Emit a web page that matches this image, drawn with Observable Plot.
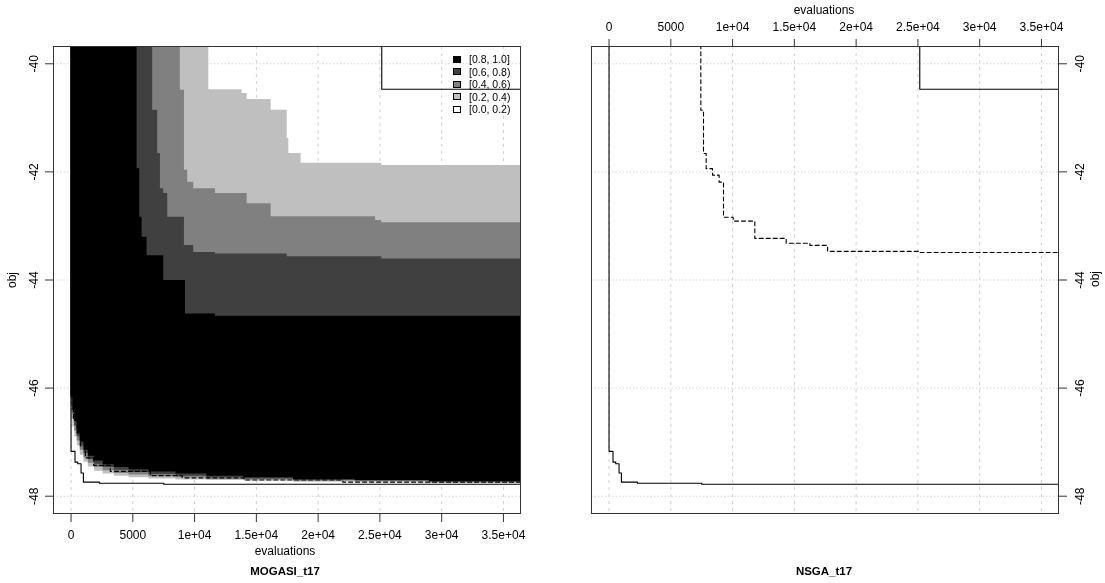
<!DOCTYPE html>
<html><head><meta charset="utf-8">
<script src="https://cdn.jsdelivr.net/npm/d3@7"></script>
<script src="https://cdn.jsdelivr.net/npm/@observablehq/plot@0.6"></script>
<style>
body{margin:0;background:#fff;font-family:"Liberation Sans",Arial,sans-serif;}
#wrap{position:relative;width:1105px;height:583px;overflow:hidden;background:#fff;}
.panel{position:absolute;top:0;}
.lbl{position:absolute;font-size:12px;color:#000;white-space:nowrap;transform:translate(-50%,-50%);}
.rot{transform:translate(-50%,-50%) rotate(-90deg);}
.ttl{font-weight:bold;font-size:11.5px;}
#legend{position:absolute;left:453px;top:53px;font-size:10.5px;line-height:12.5px;}
#legend .row{display:flex;align-items:center;height:12.5px;}
#legend .sw{width:8px;height:7px;border:1px solid #000;box-sizing:border-box;margin-right:8px;}
</style></head><body><div id="wrap"></div><script>
// ---- tick values / labels ----
const xTicks = [0, 5000, 10000, 15000, 20000, 25000, 30000, 35000];
const xTickLabels = ["0", "5000", "1e+04", "1.5e+04", "2e+04", "2.5e+04", "3e+04", "3.5e+04"];
const yTicks = [-40, -42, -44, -46, -48];
const yTickLabels = ["-40", "-42", "-44", "-46", "-48"];
const levelLabels = ["[0.8, 1.0]", "[0.6, 0.8)", "[0.4, 0.6)", "[0.2, 0.4)", "[0.0, 0.2)"];
const levelColors = ["#000000", "#404040", "#808080", "#bfbfbf", "#ffffff"];
const panelTitles = ["MOGASI_t17", "NSGA_t17"];

// ---- MOGASI EAF-difference region boundaries, lower-left band (shared x) ----
const bandX   = [0, 150, 300, 500, 750, 1050, 1400, 1900, 2600, 3500, 4700, 6300, 8500, 11000, 14000, 18000, 23000, 29000, 40000];
const low02Y  = [-46.55, -46.72, -46.90, -47.07, -47.24, -47.37, -47.46, -47.54, -47.59, -47.63, -47.66, -47.68, -47.70, -47.71, -47.72, -47.74, -47.75, -47.76, -47.76];
const low04Y  = [-46.28, -46.58, -46.80, -46.98, -47.15, -47.29, -47.39, -47.47, -47.53, -47.58, -47.61, -47.64, -47.66, -47.69, -47.70, -47.72, -47.73, -47.75, -47.75];
const low06Y  = [-46.18, -46.48, -46.70, -46.90, -47.07, -47.21, -47.32, -47.41, -47.47, -47.52, -47.56, -47.60, -47.63, -47.66, -47.68, -47.71, -47.72, -47.74, -47.74];
const low08Y  = [-46.15, -46.40, -46.62, -46.83, -47.00, -47.15, -47.26, -47.35, -47.42, -47.47, -47.51, -47.55, -47.59, -47.63, -47.66, -47.69, -47.71, -47.73, -47.73];

// ---- upper-right boundaries ----
const up06X = [5345, 5560, 5750, 6155, 7500, 9260, 11690, 40000];
const up06Y = [-41.94, -42.84, -43.21, -43.55, -44.01, -44.63, -44.67, -44.67];
const up04X = [6610, 7015, 7235, 7500, 7825, 9180, 9930, 11690, 17500, 25150, 40000];
const up04Y = [-40.86, -41.66, -42.31, -42.40, -42.84, -43.36, -43.49, -43.52, -43.57, -43.61, -43.61];
const up02X = [8850, 9180, 9445, 9930, 11690, 14255, 16200, 24650, 25150, 40000];
const up02Y = [-40.49, -41.97, -42.19, -42.31, -42.40, -42.59, -42.83, -42.90, -42.94, -42.94];
const up00X = [11150, 13850, 14255, 16200, 17500, 17630, 18630, 25150, 40000];
const up00Y = [-40.48, -40.55, -40.66, -40.86, -41.38, -41.66, -41.84, -41.88, -41.88];

// ---- attainment lines ----
const bestX  = [0, 0, 320, 540, 810, 1000, 2300, 7500, 40000];
const bestY  = [-39, -47.17, -47.37, -47.40, -47.57, -47.74, -47.76, -47.78, -47.78];
const worstX = [25150, 25150, 40000];
const worstY = [-39, -40.47, -40.47];
const mogasiMedX = [80, 80, 200, 485, 750, 1160, 1830, 3180, 6420, 9000, 14000, 22000, 40000];
const mogasiMedY = [-39, -46.39, -46.60, -46.83, -47.07, -47.29, -47.43, -47.54, -47.62, -47.66, -47.70, -47.74, -47.74];
const nsgaMedX = [7430, 7430, 7645, 7860, 8375, 8910, 9265, 10045, 11800, 14340, 16260, 17690, 25110, 40000];
const nsgaMedY = [-39, -40.86, -41.66, -41.94, -42.06, -42.19, -42.84, -42.91, -43.23, -43.32, -43.36, -43.47, -43.49, -43.51];

const TOP = -39;
const xDomain = [-1420, 36380];
const yDomain = [-48.32, -39.68];
const pts = (xs, ys) => xs.map((x, i) => ({x, y: ys[i]}));
const fmtX = d => xTickLabels[xTicks.indexOf(d)];
const fmtY = d => yTickLabels[yTicks.indexOf(d)];

function area(xs, ys, fill) {
  return Plot.areaY(pts(xs, ys), {x: "x", y1: "y", y2: TOP, curve: "step-after", fill, clip: true});
}
function line(xs, ys, dash) {
  return Plot.line(pts(xs, ys), {x: "x", y: "y", curve: "step-after", stroke: "#000", strokeWidth: 1.1, strokeDasharray: dash, clip: true});
}
const grid = () => [
  Plot.gridX(xTicks, {stroke: "#cfcfcf", strokeOpacity: 1, strokeDasharray: "3,4", mixBlendMode: "darken"}),
  Plot.gridY(yTicks, {stroke: "#d3d3d3", strokeOpacity: 1, strokeDasharray: "1.5,2", mixBlendMode: "darken"})
];
const style = {fontFamily: "Liberation Sans, Arial, sans-serif", fontSize: "12px", color: "#000", background: "transparent", overflow: "visible"};

const left = Plot.plot({
  width: 552, height: 583, marginLeft: 53, marginRight: 32, marginTop: 46, marginBottom: 70,
  style,
  x: {domain: xDomain}, y: {domain: yDomain},
  marks: [
    area(bandX, low02Y, levelColors[3]),
    area(bandX, low04Y, levelColors[2]),
    area(bandX, low06Y, levelColors[1]),
    area(bandX, low08Y, levelColors[0]),
    area(up06X, up06Y, levelColors[1]),
    area(up04X, up04Y, levelColors[2]),
    area(up02X, up02Y, levelColors[3]),
    area(up00X, up00Y, levelColors[4]),
    ...grid(),
    line(bestX, bestY),
    line(worstX, worstY),
    line(mogasiMedX, mogasiMedY, "4,3"),
    Plot.axisX(xTicks, {anchor: "bottom", tickSize: 9, tickPadding: 8, tickFormat: fmtX, label: null, stroke: "#333"}),
    Plot.axisY(yTicks, {anchor: "left", tickSize: 8, tickPadding: 8, tickRotate: -90, textAnchor: "middle", lineAnchor: "bottom", tickFormat: fmtY, label: null, stroke: "#333"}),
    Plot.frame({stroke: "#333"})
  ]
});

const right = Plot.plot({
  width: 553, height: 583, marginLeft: 39, marginRight: 47, marginTop: 46, marginBottom: 70,
  style,
  x: {domain: xDomain}, y: {domain: yDomain},
  marks: [
    ...grid(),
    line(bestX, bestY),
    line(worstX, worstY),
    line(nsgaMedX, nsgaMedY, "4,3"),
    Plot.axisX(xTicks, {anchor: "top", tickSize: 8, tickPadding: 8, tickFormat: fmtX, label: null, stroke: "#333"}),
    Plot.axisY(yTicks, {anchor: "right", tickSize: 8, tickPadding: 9, tickRotate: -90, textAnchor: "middle", lineAnchor: "top", tickFormat: fmtY, label: null, stroke: "#333"}),
    Plot.frame({stroke: "#333"})
  ]
});

const wrap = document.getElementById("wrap");
left.classList.add("panel"); left.style.left = "0px";
right.classList.add("panel"); right.style.left = "552px";
wrap.appendChild(left); wrap.appendChild(right);

function label(text, x, y, cls) {
  const d = document.createElement("div");
  d.className = "lbl" + (cls ? " " + cls : "");
  d.textContent = text;
  d.style.left = x + "px"; d.style.top = y + "px";
  wrap.appendChild(d);
}
label("evaluations", 285, 551);
label(panelTitles[0], 285, 571, "ttl");
label("obj", 12, 280, "rot");
label("evaluations", 824, 10);
label(panelTitles[1], 824, 571, "ttl");
label("obj", 1095, 279, "rot");

const lg = document.createElement("div");
lg.id = "legend";
levelLabels.forEach((t, i) => {
  const r = document.createElement("div"); r.className = "row";
  const s = document.createElement("div"); s.className = "sw"; s.style.background = levelColors[i];
  const tx = document.createElement("span"); tx.textContent = t;
  r.appendChild(s); r.appendChild(tx); lg.appendChild(r);
});
wrap.appendChild(lg);
</script></body></html>
